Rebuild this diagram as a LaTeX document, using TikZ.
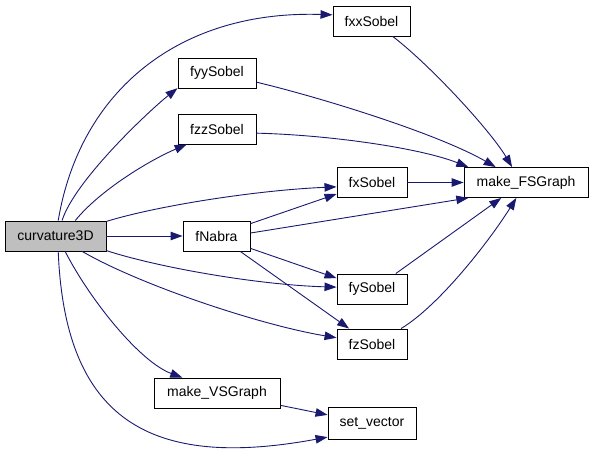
\documentclass[tikz,border=0pt]{standalone}
\usepackage{fontspec}
\setmainfont{Liberation Sans}
\usetikzlibrary{arrows.meta}
\definecolor{edgeBlue}{HTML}{191970}
\definecolor{rootGray}{HTML}{BFBFBF}
\tikzstyle{fn} = [draw=black, rectangle, line width=.9pt, minimum height=30pt, inner sep=0pt, font=\fontsize{14}{16}\selectfont]
\tikzstyle{root} = [fn, fill=rootGray]
\tikzstyle{call} = [draw=edgeBlue, line width=.9pt, -{Triangle[length=12pt, width=8.5pt]}]

\begin{document}
\begin{tikzpicture}[x=1pt, y=-1pt]
    \useasboundingbox (0,0) rectangle (595,450);

    % the functions
    \node (curv) [root, minimum width=101pt] at (55.5,236) {curvature3D};
    \node (fxx) [fn, minimum width=77pt] at (371.5,21) {fxxSobel};
    \node (fyy) [fn, minimum width=78pt] at (217,73) {fyySobel};
    \node (fzz) [fn, minimum width=78pt] at (217,129) {fzzSobel};
    \node (fx) [fn, minimum width=70pt] at (372,182.5) {fxSobel};
    \node (fsg) [fn, minimum width=124pt] at (526,182.5) {make\_FSGraph};
    \node (nabra) [fn, minimum width=67pt] at (216.5,236) {fNabra};
    \node (fy) [fn, minimum width=70pt] at (372,289) {fySobel};
    \node (fz) [fn, minimum width=70pt] at (372,344) {fzSobel};
    \node (vsg) [fn, minimum width=126pt] at (217,393) {make\_VSGraph};
    \node (setv) [fn, minimum width=88pt, minimum height=32pt] at (372,423.5) {set\_vector};

    % calls from curvature3D
    \draw [call] (curv.80) .. controls (80,90) and (180,10) .. (fxx.171);
    \draw [call] (curv.67) .. controls (75,180) and (150,110) .. (fyy.201);
    \draw [call] (curv.38) .. controls (100,190) and (150,160) .. (fzz.207);
    \draw [call] (curv.16) .. controls (160,205) and (260,190) .. (fx.187);
    \draw [call] (curv) -- (nabra);
    \draw [call] (curv.-16) .. controls (160,268) and (260,285) .. (fy.177);
    \draw [call] (curv.330) .. controls (140,285) and (260,325) .. (fz.170);
    \draw [call] (curv.302) .. controls (90,300) and (140,362) .. (vsg.156);
    \draw [call] (curv.280) .. controls (65,420) and (150,470) .. (setv.197);

    % calls from fNabra
    \draw [call] (nabra.20) -- (fx.198);
    \draw [call] (nabra.5) -- (fsg.195);
    \draw [call] (nabra.340) -- (fy.163);
    \draw [call] (nabra.327) -- (fz.146);

    % into make_FSGraph
    \draw [call] (fx) -- (fsg);
    \draw [call] (fxx.324) .. controls (430,65) and (490,130) .. (fsg.132);
    \draw [call] (fyy.347) .. controls (330,100) and (440,135) .. (fsg.153);
    \draw [call] (fzz.354) .. controls (330,135) and (420,148) .. (fsg.165);
    \draw [call] (fy.33) -- (fsg.212);
    \draw [call] (fz.28) .. controls (440,305) and (490,240) .. (fsg.238);

    % into set_vector
    \draw [call] (vsg.349) -- (setv.169);
\end{tikzpicture}
\end{document}
